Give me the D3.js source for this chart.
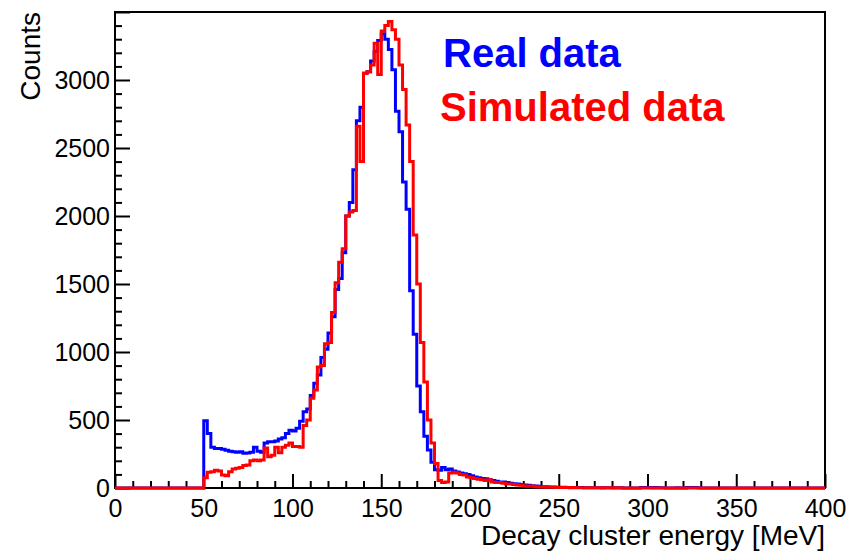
<!DOCTYPE html>
<html>
<head>
<meta charset="utf-8">
<script src="https://cdn.jsdelivr.net/npm/d3@7"></script>
<style>
  body { margin: 0; background: #fff; }
  svg text { font-family: "Liberation Sans", Arial, Helvetica, sans-serif; }
</style>
</head>
<body>
<div id="chart"></div>
<script>
// histogram bins: 2 MeV wide, first filled bin starts at 50 MeV
const binStart = 50;
const binWidth = 2;

const realCounts = [
  495, 400, 300, 291, 291, 285, 278, 270, 266, 262,
  266, 255, 258, 262, 300, 270, 262, 330, 340, 340,
  345, 360, 370, 400, 425, 420, 440, 490, 560, 580,
  680, 770, 830, 960, 1020, 1140, 1260, 1460, 1540, 1730,
  2000, 2100, 2340, 2700, 2800, 3050, 3060, 3140, 3210, 3290,
  3340, 3300, 3225, 3075, 2770, 2620, 2250, 2050, 1450, 1130,
  750, 560, 380, 280, 190, 135, 130, 150, 135, 140,
  125, 118, 110, 105, 100, 90, 80, 75, 70, 68,
  60, 55, 50, 45, 44, 40, 35, 32, 30, 26,
  22, 20, 17, 15, 12, 10, 9, 8, 7, 6,
  5, 5, 4, 4, 3, 3, 3, 2, 2, 2,
  2, 1, 2, 1, 1, 2, 1, 1, 0, 0,
  0, 0, 0, 3, 4, 3, 2, 3, 2, 1,
  0, 0, 0, 1, 0, 0, 3, 4, 3, 1
];

const simCounts = [
  75, 115, 120, 130, 125, 95, 90, 120, 140, 145,
  150, 165, 170, 200, 205, 200, 205, 295, 230, 240,
  300, 260, 300, 315, 330, 305, 305, 300, 460, 500,
  660, 720, 890, 900, 1060, 1070, 1290, 1510, 1660, 1760,
  2000, 2030, 2040, 2660, 2400, 3050, 3060, 3110, 3270, 3040,
  3360, 3400, 3430, 3370, 3300, 3110, 2930, 2670, 2400, 1860,
  1500, 1070, 780, 500, 330, 180, 56, 40, 45, 110,
  115, 110, 100, 95, 80, 75, 70, 65, 60, 55,
  60, 45, 40, 40, 35, 30, 30, 25, 22, 20,
  15, 12, 14, 10, 8, 8, 6, 5, 6, 4,
  3, 3, 4, 2, 3, 2, 2, 1, 2, 1,
  1, 1, 0, 1, 1, 0, 1, 0, 0, 0
];

const xTicks = [0, 50, 100, 150, 200, 250, 300, 350, 400];
const yTicks = [0, 500, 1000, 1500, 2000, 2500, 3000, 3500];
const yLabelled = [0, 500, 1000, 1500, 2000, 2500, 3000];

const seriesList = [
  { name: "Real data", counts: realCounts, color: "#0000ff" },
  { name: "Simulated data", counts: simCounts, color: "#ff0000" }
];

const width = 850, height = 552;
const margin = { left: 115, right: 25, top: 12, bottom: 64 };

const svg = d3.select("#chart").append("svg")
  .attr("width", width)
  .attr("height", height);

const x = d3.scaleLinear().domain([0, 400]).range([margin.left, width - margin.right]);
const y = d3.scaleLinear().domain([0, 3500]).range([height - margin.bottom, margin.top]);

// frame
svg.append("rect")
  .attr("x", x(0)).attr("y", y(3500))
  .attr("width", x(400) - x(0)).attr("height", y(0) - y(3500))
  .attr("fill", "none").attr("stroke", "#000").attr("stroke-width", 2);

// x axis: major + minor ticks pointing inward
const xMinor = d3.range(0, 401, 10).filter(v => v % 50 !== 0);
svg.append("g")
  .attr("transform", `translate(0,${y(0)})`)
  .call(d3.axisBottom(x).tickValues(xMinor).tickSize(-7).tickFormat(""))
  .call(g => g.select(".domain").remove());
svg.append("g")
  .attr("class", "x-axis")
  .attr("transform", `translate(0,${y(0)})`)
  .call(d3.axisBottom(x).tickValues(xTicks).tickSize(-14).tickPadding(11).tickFormat(d3.format("d")))
  .call(g => g.select(".domain").remove());

// y axis
const yMinor = d3.range(0, 3501, 100).filter(v => v % 500 !== 0);
svg.append("g")
  .attr("transform", `translate(${x(0)},0)`)
  .call(d3.axisLeft(y).tickValues(yMinor).tickSize(-7).tickFormat(""))
  .call(g => g.select(".domain").remove());
svg.append("g")
  .attr("class", "y-axis")
  .attr("transform", `translate(${x(0)},0)`)
  .call(d3.axisLeft(y).tickValues(yTicks).tickSize(-15).tickPadding(5)
    .tickFormat(d => yLabelled.includes(d) ? d : ""))
  .call(g => g.select(".domain").remove());

svg.selectAll(".tick line").attr("stroke", "#000").attr("stroke-width", 2);
svg.selectAll(".tick text").attr("font-size", 25).attr("fill", "#000")
  .style("font-family", "'Liberation Sans', Arial, sans-serif");

// axis titles
svg.append("text")
  .attr("x", x(400)).attr("y", 545)
  .attr("text-anchor", "end")
  .attr("font-size", 28)
  .text("Decay cluster energy [MeV]");

svg.append("text")
  .attr("transform", `translate(40,${margin.top}) rotate(-90)`)
  .attr("text-anchor", "end")
  .attr("font-size", 28)
  .text("Counts");

// step histograms
const line = d3.line()
  .x(d => x(d[0]))
  .y(d => y(d[1]))
  .curve(d3.curveStepAfter);

seriesList.forEach(s => {
  const pts = [[0, 0]];
  s.counts.forEach((c, i) => pts.push([binStart + i * binWidth, c]));
  pts.push([binStart + s.counts.length * binWidth, 0]);
  pts.push([400, 0]);
  svg.append("path")
    .datum(pts)
    .attr("d", line)
    .attr("fill", "none")
    .attr("stroke", s.color)
    .attr("stroke-width", 3)
    .attr("stroke-linejoin", "miter");
});

// legend text
const legendPos = [[443, 67], [440, 121]];
seriesList.forEach((s, i) => {
  svg.append("text")
    .attr("x", legendPos[i][0]).attr("y", legendPos[i][1])
    .attr("font-size", 40)
    .attr("font-weight", "bold")
    .attr("fill", s.color)
    .text(s.name);
});
</script>
</body>
</html>
